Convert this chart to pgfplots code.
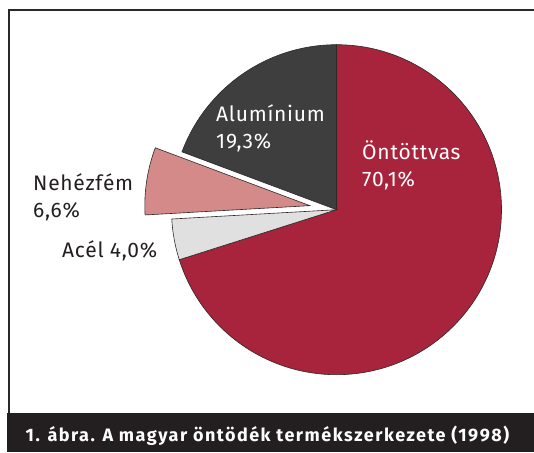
\documentclass[border=0pt]{standalone}
\usepackage{pgfplots}
\usepackage{pgfplotstable}
\pgfplotsset{compat=1.18}
\usepackage{fontspec}
\setmainfont{Fira Sans}
\newfontfamily\capfont[LetterSpace=8.3]{Fira Sans}
\newfontfamily\labfont[LetterSpace=3.5]{Fira Sans}
\definecolor{cast}{RGB}{168,36,60}
\definecolor{alu}{RGB}{62,62,62}
\definecolor{heavy}{RGB}{212,138,136}
\definecolor{steel}{RGB}{224,224,224}
\definecolor{edge}{RGB}{45,40,40}
\definecolor{capbg}{RGB}{35,31,32}
\definecolor{txt}{RGB}{35,31,32}
\pgfplotstableread{
idx value
0 70.1
1 4.0
2 6.6
3 19.3
}\piedata
\begin{document}
\begin{tikzpicture}
\useasboundingbox (0,0) rectangle (534pt,452pt);
\pgfplotstablegetelem{0}{value}\of\piedata \let\va\pgfplotsretval
\pgfplotstablegetelem{1}{value}\of\piedata \let\vb\pgfplotsretval
\pgfplotstablegetelem{2}{value}\of\piedata \let\vc\pgfplotsretval
\pgfplotstablegetelem{3}{value}\of\piedata \let\vd\pgfplotsretval
\pgfmathsetmacro\aA{90-3.6*\va}
\pgfmathsetmacro\aB{\aA-3.6*\vb}
\pgfmathsetmacro\aC{\aB-3.6*\vc}
\pgfmathsetmacro\aD{\aC-3.6*\vd}
\pgfmathsetmacro\mC{(\aB+\aC)/2}
\pgfmathsetmacro\cx{336.5}
\pgfmathsetmacro\cy{242.3}
\pgfmathsetmacro\R{165}
\pgfmathsetmacro\ex{\cx+27*cos(\mC)}
\pgfmathsetmacro\ey{\cy+27*sin(\mC)}
\begin{axis}[x=1pt,y=1pt,xmin=0,xmax=534,ymin=0,ymax=452,hide axis,clip=false,
  anchor=origin, at={(0,0)}]
% frame
\draw[edge, line width=2pt] (axis cs:8.5,20) -- (axis cs:8.5,442) -- (axis cs:534,442);
% slices
\filldraw[fill=cast, draw=edge, line width=0.6pt] (axis cs:\cx,\cy) -- (axis cs:{\cx+\R*cos(90)},{\cy+\R*sin(90)}) arc[start angle=90, end angle=\aA, radius=\R] -- cycle;
\filldraw[fill=steel, draw=edge, line width=0.6pt] (axis cs:\cx,\cy) -- (axis cs:{\cx+\R*cos(\aA)},{\cy+\R*sin(\aA)}) arc[start angle=\aA, end angle=\aB, radius=\R] -- cycle;
\filldraw[fill=heavy, draw=edge, line width=0.6pt] (axis cs:\ex,\ey) -- (axis cs:{\ex+\R*cos(\aB)},{\ey+\R*sin(\aB)}) arc[start angle=\aB, end angle=\aC, radius=\R] -- cycle;
\filldraw[fill=alu, draw=edge, line width=0.6pt] (axis cs:\cx,\cy) -- (axis cs:{\cx+\R*cos(\aC)},{\cy+\R*sin(\aC)}) arc[start angle=\aC, end angle=\aD, radius=\R] -- cycle;
% labels
\begin{scope}[every node/.style={anchor=base west, inner sep=0pt, font=\labfont\fontsize{21}{25}\selectfont}]
\node[white] at (axis cs:216,330) {Alumínium};
\node[white] at (axis cs:216,303.5) {19,3\%};
\node[white] at (axis cs:362,292) {Öntöttvas};
\node[white] at (axis cs:362,265.3) {70,1\%};
\node[txt] at (axis cs:33,261) {Nehézfém};
\node[txt] at (axis cs:33,234.7) {6,6\%};
\node[txt] at (axis cs:62,194.3) {Acél 4,0\%};
\end{scope}
% caption
\fill[capbg] (axis cs:7,0) rectangle (axis cs:534,39);
\node[white, anchor=base west, inner sep=0pt, font=\capfont\bfseries\fontsize{18}{22}\selectfont] at (axis cs:25.5,11) {1. ábra. A magyar öntödék termékszerkezete (1998)};
\end{axis}
\end{tikzpicture}
\end{document}
